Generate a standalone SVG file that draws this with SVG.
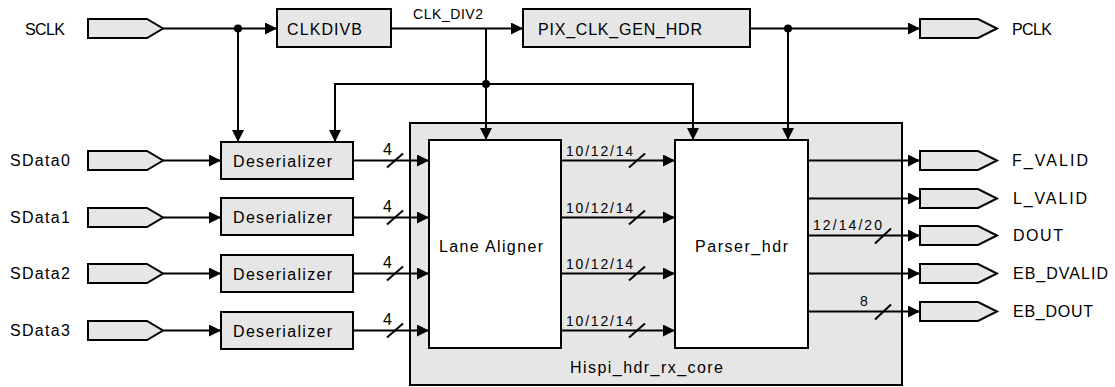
<svg xmlns="http://www.w3.org/2000/svg" width="1115" height="387" viewBox="0 0 1115 387">
<style>
.box{fill:#e6e6e6;stroke:#000;stroke-width:2}
.wbox{fill:#fff;stroke:#000;stroke-width:2}
.port{fill:#e6e6e6;stroke:#000;stroke-width:2}
.ln{fill:none;stroke:#000;stroke-width:2}
.ar{fill:none;stroke:#000;stroke-width:2;marker-end:url(#ah)}
.t{font-family:"Liberation Sans",Arial,sans-serif;font-size:16px;fill:#000}
.s{font-family:"Liberation Sans",Arial,sans-serif;font-size:14px;fill:#000}
</style>
<defs>
<marker id="ah" viewBox="0 0 12 12" refX="12" refY="6" markerWidth="12" markerHeight="12" markerUnits="userSpaceOnUse" orient="auto">
<path d="M0,0 L12,6 L0,12 Z" fill="#000"/>
</marker>
</defs>
<rect width="1115" height="387" fill="#fff"/>

<g id="core">
<rect class="box" x="410" y="123" width="492" height="262"/>
<text class="t" x="570" y="373" textLength="153" lengthAdjust="spacing">Hispi_hdr_rx_core</text>
</g>

<g id="sclk">
<polygon class="port" points="88,19 147,19 163,28.5 147,38 88,38"/>
<text class="t" x="25" y="35" textLength="40" lengthAdjust="spacing">SCLK</text>
</g>
<g id="sdata0">
<polygon class="port" points="88,151 147,151 163,160.5 147,170 88,170"/>
<text class="t" x="10" y="166" textLength="60" lengthAdjust="spacing">SData0</text>
</g>
<g id="sdata1">
<polygon class="port" points="88,208 147,208 163,217.5 147,227 88,227"/>
<text class="t" x="10" y="223" textLength="60" lengthAdjust="spacing">SData1</text>
</g>
<g id="sdata2">
<polygon class="port" points="88,264 147,264 163,273.5 147,283 88,283"/>
<text class="t" x="10" y="279" textLength="60" lengthAdjust="spacing">SData2</text>
</g>
<g id="sdata3">
<polygon class="port" points="88,321 147,321 163,330.5 147,340 88,340"/>
<text class="t" x="10" y="336" textLength="60" lengthAdjust="spacing">SData3</text>
</g>

<g id="clkdivb">
<rect class="box" x="277" y="9" width="114" height="38"/>
<text class="t" x="287" y="35" textLength="75" lengthAdjust="spacing">CLKDIVB</text>
</g>
<g id="pixclk">
<rect class="box" x="523" y="9" width="227" height="38"/>
<text class="t" x="538" y="35" textLength="164" lengthAdjust="spacing">PIX_CLK_GEN_HDR</text>
</g>

<g id="des0">
<rect class="box" x="221" y="142" width="132" height="37"/>
<text class="t" x="233" y="167" textLength="99" lengthAdjust="spacing">Deserializer</text>
</g>
<g id="des1">
<rect class="box" x="221" y="198" width="132" height="37"/>
<text class="t" x="233" y="223" textLength="99" lengthAdjust="spacing">Deserializer</text>
</g>
<g id="des2">
<rect class="box" x="221" y="255" width="132" height="37"/>
<text class="t" x="233" y="280" textLength="99" lengthAdjust="spacing">Deserializer</text>
</g>
<g id="des3">
<rect class="box" x="221" y="312" width="132" height="37"/>
<text class="t" x="233" y="337" textLength="99" lengthAdjust="spacing">Deserializer</text>
</g>

<g id="lane">
<rect class="wbox" x="429" y="140" width="132" height="208"/>
<text class="t" x="439" y="252" textLength="104" lengthAdjust="spacing">Lane Aligner</text>
</g>
<g id="parser">
<rect class="wbox" x="675" y="140" width="133" height="208"/>
<text class="t" x="695" y="252" textLength="93" lengthAdjust="spacing">Parser_hdr</text>
</g>

<g id="pclk">
<polygon class="port" points="920,19 978,19 997,28.5 978,38 920,38"/>
<text class="t" x="1012" y="35" textLength="40" lengthAdjust="spacing">PCLK</text>
</g>
<g id="fvalid">
<polygon class="port" points="920,151 978,151 997,160.5 978,170 920,170"/>
<text class="t" x="1012" y="166" textLength="76" lengthAdjust="spacing">F_VALID</text>
</g>
<g id="lvalid">
<polygon class="port" points="920,189 978,189 997,198.5 978,208 920,208"/>
<text class="t" x="1013" y="204" textLength="74" lengthAdjust="spacing">L_VALID</text>
</g>
<g id="dout">
<polygon class="port" points="920,226 978,226 997,235.5 978,245 920,245"/>
<text class="t" x="1013" y="241" textLength="50" lengthAdjust="spacing">DOUT</text>
</g>
<g id="ebdvalid">
<polygon class="port" points="920,264 978,264 997,273.5 978,283 920,283"/>
<text class="t" x="1013" y="279" textLength="95" lengthAdjust="spacing">EB_DVALID</text>
</g>
<g id="ebdout">
<polygon class="port" points="920,302 978,302 997,311.5 978,321 920,321"/>
<text class="t" x="1013" y="317" textLength="80" lengthAdjust="spacing">EB_DOUT</text>
</g>

<g id="connectors">
<line class="ar" x1="163" y1="28.5" x2="277" y2="28.5"/>
<line class="ar" x1="238" y1="28.5" x2="238" y2="142"/>
<circle cx="238" cy="28.5" r="4"/>
<line class="ar" x1="391" y1="28.5" x2="523" y2="28.5"/>
<text class="s" x="413" y="19" textLength="70" lengthAdjust="spacing">CLK_DIV2</text>
<line class="ar" x1="486" y1="28.5" x2="486" y2="140"/>
<polyline class="ar" points="335,84 693,84 693,140"/>
<line class="ar" x1="335" y1="83" x2="335" y2="142"/>
<circle cx="486" cy="84" r="4"/>
<line class="ar" x1="750" y1="28.5" x2="920" y2="28.5"/>
<line class="ar" x1="788" y1="28.5" x2="788" y2="140"/>
<circle cx="788" cy="28.5" r="4"/>

<line class="ar" x1="163" y1="160.5" x2="221" y2="160.5"/>
<line class="ar" x1="163" y1="217.5" x2="221" y2="217.5"/>
<line class="ar" x1="163" y1="273.5" x2="221" y2="273.5"/>
<line class="ar" x1="163" y1="330.5" x2="221" y2="330.5"/>

<line class="ar" x1="353" y1="160.5" x2="429" y2="160.5"/>
<line class="ar" x1="353" y1="217.5" x2="429" y2="217.5"/>
<line class="ar" x1="353" y1="273.5" x2="429" y2="273.5"/>
<line class="ar" x1="353" y1="330.5" x2="429" y2="330.5"/>
<line class="ln" x1="387" y1="167.5" x2="403" y2="153.5"/>
<line class="ln" x1="387" y1="224.5" x2="403" y2="210.5"/>
<line class="ln" x1="387" y1="280.5" x2="403" y2="266.5"/>
<line class="ln" x1="387" y1="337.5" x2="403" y2="323.5"/>
<text class="t" x="383" y="155">4</text>
<text class="t" x="383" y="212">4</text>
<text class="t" x="383" y="268">4</text>
<text class="t" x="383" y="325">4</text>

<line class="ar" x1="561" y1="160.5" x2="675" y2="160.5"/>
<line class="ar" x1="561" y1="217.5" x2="675" y2="217.5"/>
<line class="ar" x1="561" y1="273.5" x2="675" y2="273.5"/>
<line class="ar" x1="561" y1="330.5" x2="675" y2="330.5"/>
<line class="ln" x1="629" y1="167.5" x2="645" y2="153.5"/>
<line class="ln" x1="629" y1="224.5" x2="645" y2="210.5"/>
<line class="ln" x1="629" y1="280.5" x2="645" y2="266.5"/>
<line class="ln" x1="629" y1="337.5" x2="645" y2="323.5"/>
<text class="s" x="566" y="156" textLength="67" lengthAdjust="spacing">10/12/14</text>
<text class="s" x="566" y="213" textLength="67" lengthAdjust="spacing">10/12/14</text>
<text class="s" x="566" y="269" textLength="67" lengthAdjust="spacing">10/12/14</text>
<text class="s" x="566" y="326" textLength="67" lengthAdjust="spacing">10/12/14</text>

<line class="ar" x1="809" y1="160.5" x2="920" y2="160.5"/>
<line class="ar" x1="809" y1="198.5" x2="920" y2="198.5"/>
<line class="ar" x1="809" y1="235.5" x2="920" y2="235.5"/>
<line class="ar" x1="809" y1="273.5" x2="920" y2="273.5"/>
<line class="ar" x1="809" y1="311.5" x2="920" y2="311.5"/>
<line class="ln" x1="875" y1="243.5" x2="891" y2="228.5"/>
<line class="ln" x1="875" y1="319.5" x2="891" y2="304.5"/>
<text class="s" x="813" y="230" textLength="69" lengthAdjust="spacing">12/14/20</text>
<text class="s" x="860" y="306">8</text>
</g>
</svg>
